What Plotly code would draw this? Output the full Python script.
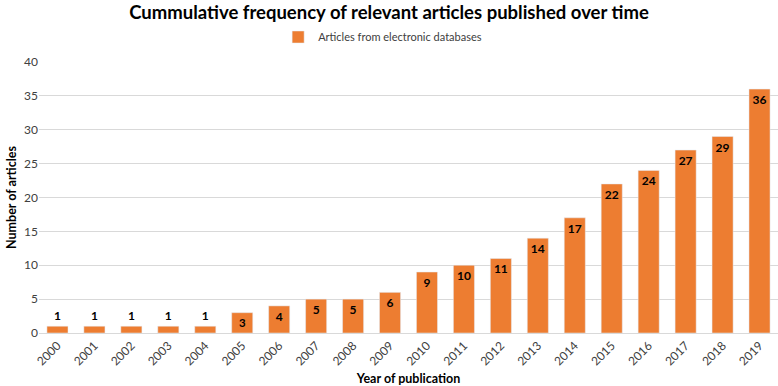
import plotly.graph_objects as go

years = [str(y) for y in range(2000, 2020)]
counts = [1, 1, 1, 1, 1, 3, 4, 5, 5, 6, 9, 10, 11, 14, 17, 22, 24, 27, 29, 36]
series_name = "Articles from electronic databases"

fig = go.Figure()
fig.add_trace(go.Bar(
    x=years, y=counts, name=series_name,
    marker=dict(color="#ED7D31"),
    text=[str(c) for c in counts],
    textposition="auto",
    insidetextanchor="end",
    textangle=0,
    insidetextfont=dict(color="black", size=12, family="Lato", weight="bold"),
    outsidetextfont=dict(color="black", size=12, family="Lato", weight="bold"),
    cliponaxis=False,
))

fig.update_layout(
    width=778, height=386,
    margin=dict(l=39, r=0, t=62, b=53, autoexpand=False),
    paper_bgcolor="white", plot_bgcolor="white",
    font=dict(family="Lato", size=12, color="#404040"),
    title=dict(text="<b>Cummulative frequency of relevant articles published over time</b>",
               x=0.5, xanchor="center", y=0.985, yanchor="top",
               font=dict(size=18.5, color="black", family="Lato")),
    showlegend=True,
    legend=dict(orientation="h", x=0.465, xanchor="center", yref="container",
                y=1 - 37 / 386, yanchor="middle", itemwidth=30,
                font=dict(size=11, color="#404040")),
    bargap=0.43,
    xaxis=dict(tickangle=-45, showgrid=False, linecolor="#d9d9d9", showline=True,
               ticks="", tickfont=dict(size=12, color="#404040"), automargin=False,
               title=dict(text="<b>Year of publication</b>", font=dict(size=12.5, color="black"), standoff=8)),
    yaxis=dict(range=[0, 40], dtick=5, gridcolor="#d9d9d9", zeroline=False, automargin=False,
               tickfont=dict(size=12, color="#404040"), ticks="", ticklen=0,
               title=dict(text="<b>Number of articles</b>", font=dict(size=12.5, color="black"), standoff=4)),
)

fig.write_html("out.html", config={"displayModeBar": False},
               post_script="document.body.style.margin='0';document.body.style.overflow='hidden';")
